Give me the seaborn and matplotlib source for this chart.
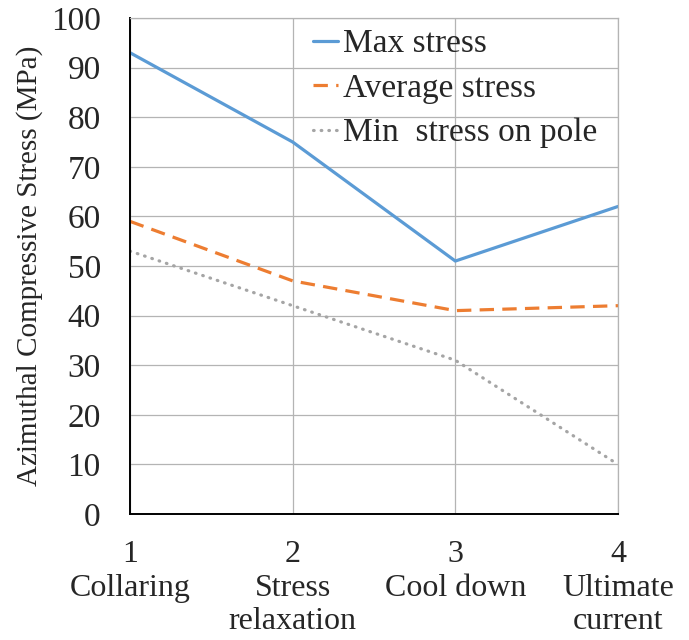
import numpy as np
import pandas as pd
import seaborn as sns
import matplotlib.pyplot as plt

# data
steps = [1, 2, 3, 4]
step_names = ['Collaring', 'Stress\nrelaxation', 'Cool down', 'Ultimate\ncurrent']
max_stress = [93, 75, 51, 62]
avg_stress = [59, 47, 41, 42]
min_stress = [53, 42, 31, 10]

sns.set_style('white')
plt.rcParams['font.family'] = ['Liberation Serif', 'DejaVu Serif']

fig = plt.figure(figsize=(6.89, 6.4), dpi=100)
ax = fig.add_axes([130 / 689, 1 - 514 / 640, 488 / 689, 496 / 640])

series = [
    ('Max stress', max_stress, '#5B9BD5', '-'),
    ('Average stress', avg_stress, '#ED7D31', (0, (4.5, 2.6))),
    ('Min  stress on pole', min_stress, '#A5A5A5', (0, (0.2, 2.2))),
]
for name, vals, color, ls in series:
    df = pd.DataFrame({'step': steps, 'stress': vals})
    sns.lineplot(data=df, x='step', y='stress', ax=ax, color=color,
                 linewidth=2.3, label=name)
    ax.lines[-1].set_linestyle(ls)
    if ls != '-':
        ax.lines[-1].set_dash_capstyle('round' if name.startswith('Min') else 'butt')

ax.set_xlim(1, 4)
ax.set_ylim(0, 100)
ax.set_yticks(range(0, 101, 10))
ax.set_xticks(steps)
ax.set_xticklabels([f'{s}\n{n}' for s, n in zip(steps, step_names)],
                   linespacing=1.2)
ax.grid(True, color='#B4B4B4', linewidth=0.9)
ax.tick_params(axis='both', labelsize=24, length=0)
ax.tick_params(axis='x', labelsize=23, pad=19)
ax.tick_params(axis='y', pad=21)
for side in ['left', 'bottom']:
    ax.spines[side].set_color('black')
    ax.spines[side].set_linewidth(1.4)
for side in ['top', 'right']:
    ax.spines[side].set_color('#B4B4B4')
    ax.spines[side].set_linewidth(0.9)

ax.set_xlabel('')
ax.set_ylabel('Azimuthal Compressive Stress (MPa)', fontsize=21, labelpad=6)

leg = ax.legend(loc='upper left', bbox_to_anchor=(0.375, 0.978), frameon=False,
                fontsize=24, handlelength=0.75, handletextpad=0.15,
                labelspacing=0.42, borderaxespad=0, borderpad=0)

fig.savefig('out.png', dpi=100)
